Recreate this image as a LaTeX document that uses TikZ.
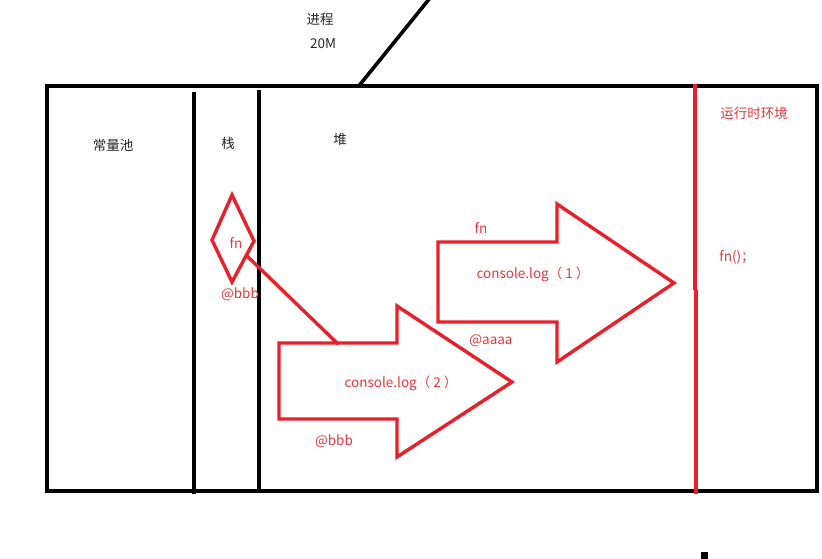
\documentclass[tikz,border=0pt]{standalone}
\usepackage{fontspec}
\setmainfont{Noto Sans CJK SC}
\begin{document}
\begin{tikzpicture}[x=1pt,y=-1pt,
  blk/.style={line width=3.6pt,black},
  redl/.style={line width=3.4pt,draw=myred,line join=miter},
  lbl/.style={font=\fontsize{13.5}{15}\selectfont,text=black!85,inner sep=0pt},
  rlbl/.style={font=\fontsize{13.5}{15}\selectfont,text=mytext,inner sep=0pt}]
\definecolor{myred}{HTML}{E8202A}
\definecolor{mytext}{HTML}{E0393E}
\useasboundingbox (0,0) rectangle (822,559);
\fill[white] (0,0) rectangle (822,559);
% outer box
\draw[blk] (47,86) rectangle (817,491);
\coordinate (pA) at (358,87);
\coordinate (pB) at (430,-2);
\draw[blk] (pA) -- (pB);
% stack columns
\coordinate (s1t) at (194,92); \coordinate (s1b) at (194,494);
\coordinate (s2t) at (259,90); \coordinate (s2b) at (259,492);
\draw[blk] (s1t) -- (s1b);
\draw[blk] (s2t) -- (s2b);
% red runtime line
\coordinate (r1) at (695,84); \coordinate (r2) at (695,290);
\coordinate (r3) at (696,290); \coordinate (r4) at (696,494);
\draw[redl] (r1) -- (r2);
\draw[redl] (r3) -- (r4);
% stray mark
\fill[black] (701,552) rectangle (708,559);
% diamond
\coordinate (dT) at (232,195);
\coordinate (dL) at (212,240);
\coordinate (dR) at (254,241);
\coordinate (dB) at (232,282);
\draw[redl] (dT) -- (dR) -- (dB) -- (dL) -- cycle;
\coordinate (lnA) at (247,256);
\coordinate (lnB) at (338,344);
\draw[redl] (lnA) -- (lnB);
% arrow 1
\draw[redl] (438,242) -- (557,242) -- (557,204) -- (674,283) -- (557,362) -- (557,322) -- (438,322) -- cycle;
% arrow 2
\draw[redl] (279,343) -- (397,343) -- (397,306) -- (512,382) -- (397,457) -- (397,419) -- (279,419) -- cycle;
% texts
\node[lbl] (t1) at (320,19) {进程};
\node[lbl] (t2) at (323,44) {20M};
\node[lbl] (t3) at (113,145) {常量池};
\node[lbl] (t4) at (228,143) {栈};
\node[lbl] (t5) at (340,139) {堆};
\node[rlbl] (t6) at (754,113) {运行时环境};
\node[rlbl] (t7) at (737,257) {fn()；};
\node[rlbl] (t8) at (236,243) {fn};
\node[rlbl] (t9) at (240,294) {@bbb};
\node[rlbl] (t10) at (481,228) {fn};
\node[rlbl] (t11) at (533,274) {console.log（ 1 ）};
\node[rlbl] (t12) at (491,341) {@aaaa};
\node[rlbl] (t13) at (401,383) {console.log（ 2 ）};
\node[rlbl] (t14) at (334,441) {@bbb};
\end{tikzpicture}
\end{document}
